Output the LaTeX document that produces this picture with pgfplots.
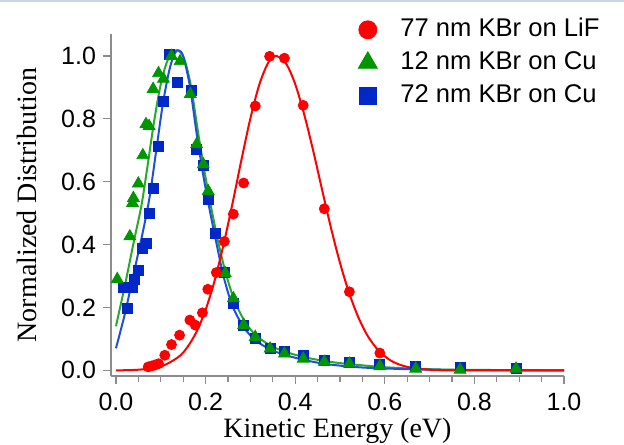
\documentclass[border=0pt]{standalone}
\usepackage{fontspec}
\setmainfont{Liberation Sans}
\newfontfamily\labelfont{Liberation Serif}
\usepackage{pgfplots}
\pgfplotsset{compat=1.18}
\usepackage{pgfplotstable}

\definecolor{mred}{RGB}{255,0,0}
\definecolor{mgreen}{RGB}{0,150,0}
\definecolor{mblue}{RGB}{0,40,200}
\definecolor{lgreen}{RGB}{40,170,40}
\definecolor{lblue}{RGB}{30,80,220}
\definecolor{axgray}{RGB}{140,140,140}

% measured points
\pgfplotstableread{
x y
0.072 0.011
0.080 0.014
0.087 0.017
0.095 0.021
0.109 0.048
0.124 0.082
0.142 0.112
0.165 0.160
0.177 0.144
0.193 0.183
0.205 0.258
0.224 0.311
0.242 0.410
0.262 0.497
0.285 0.596
0.311 0.841
0.343 0.999
0.376 0.993
0.418 0.843
0.465 0.514
0.521 0.250
0.589 0.055
}\lifpts

\pgfplotstableread{
x y
0.003 0.290
0.031 0.426
0.037 0.532
0.039 0.548
0.050 0.594
0.060 0.684
0.067 0.783
0.074 0.777
0.083 0.895
0.095 0.945
0.106 0.927
0.124 1.000
0.143 0.983
0.166 0.879
0.180 0.719
0.195 0.655
0.206 0.570
0.244 0.309
0.262 0.229
0.285 0.144
0.311 0.106
0.344 0.069
0.376 0.053
0.418 0.037
0.465 0.027
0.521 0.021
0.589 0.013
0.669 0.005
0.768 0.002
0.893 0.005
}\cuthinpts

\pgfplotstableread{
x y
0.016 0.264
0.025 0.197
0.036 0.264
0.042 0.288
0.051 0.317
0.060 0.389
0.068 0.405
0.075 0.500
0.084 0.580
0.094 0.713
0.107 0.857
0.120 1.006
0.138 0.916
0.168 0.890
0.180 0.703
0.195 0.653
0.206 0.543
0.222 0.437
0.242 0.311
0.262 0.213
0.285 0.144
0.311 0.101
0.344 0.071
0.376 0.059
0.418 0.048
0.465 0.032
0.521 0.024
0.589 0.018
0.669 0.011
0.768 0.009
0.893 0.006
}\cuthickpts

% fitted curves
\pgfplotstableread{
x y
0.00 0.000
0.05 0.002
0.10 0.012
0.14 0.043
0.16 0.075
0.18 0.123
0.20 0.192
0.22 0.284
0.24 0.399
0.26 0.530
0.28 0.669
0.30 0.801
0.32 0.909
0.34 0.979
0.358 1.000
0.38 0.975
0.40 0.911
0.42 0.815
0.44 0.700
0.46 0.575
0.48 0.453
0.50 0.342
0.52 0.248
0.54 0.172
0.56 0.114
0.58 0.073
0.60 0.045
0.62 0.026
0.65 0.011
0.70 0.002
0.75 0.000
1.00 0.000
}\liffit

\pgfplotstableread{
x y
0.000 0.140
0.020 0.270
0.040 0.410
0.057 0.525
0.070 0.645
0.085 0.790
0.100 0.910
0.115 0.985
0.133 1.018
0.145 1.010
0.155 0.980
0.168 0.900
0.183 0.760
0.198 0.630
0.213 0.515
0.228 0.410
0.245 0.310
0.265 0.220
0.290 0.150
0.315 0.108
0.350 0.075
0.385 0.056
0.420 0.042
0.460 0.031
0.500 0.023
0.550 0.016
0.600 0.010
0.670 0.005
0.750 0.002
0.850 0.001
1.000 0.000
}\cuthinfit

\pgfplotstableread{
x y
0.000 0.070
0.020 0.180
0.040 0.310
0.060 0.440
0.075 0.550
0.090 0.700
0.105 0.850
0.120 0.960
0.132 1.010
0.140 1.018
0.150 1.000
0.165 0.905
0.180 0.755
0.195 0.620
0.210 0.505
0.225 0.400
0.240 0.300
0.260 0.205
0.285 0.138
0.310 0.097
0.345 0.066
0.380 0.048
0.420 0.033
0.460 0.022
0.500 0.015
0.550 0.009
0.600 0.006
0.670 0.003
0.750 0.0015
0.850 0.0005
1.000 0.000
}\cuthickfit

\begin{document}
\begin{tikzpicture}
\path[use as bounding box] (-55.5pt,-34pt) rectangle (256.5pt,188pt);
\draw[line width=1.2pt, color={rgb,255:red,200;green,215;blue,232}] (-55.5pt,187.4pt) -- (256.5pt,187.4pt);
\begin{axis}[
  at={(0,0)}, anchor=south west,
  scale only axis,
  width=226.5pt, height=171pt,
  xmin=-0.011, xmax=1.0,
  ymin=-0.018, ymax=1.07,
  axis x line=bottom, axis y line=left,
  axis line style={-, axgray, line width=0.8pt},
  xtick={0,0.2,0.4,0.6,0.8,1.0},
  ytick={0,0.2,0.4,0.6,0.8,1.0},
  minor x tick num=3,
  tick align=outside,
  major tick length=4pt, minor tick length=3pt,
  every tick/.style={axgray, line width=0.6pt},
  /pgf/number format/fixed,
  /pgf/number format/fixed zerofill,
  /pgf/number format/precision=1,
  /pgf/number format/assume math mode=true,
  ticklabel style={font=\fontsize{12.5}{14}\selectfont, text=black},
  xticklabel style={yshift=-1pt},
  xlabel={Kinetic Energy (eV)},
  xlabel style={font=\labelfont\fontsize{14}{16}\selectfont, at={(axis description cs:0.5,-0.181)}, anchor=base},
  ylabel={Normalized Distribution},
  ylabel style={font=\labelfont\fontsize{14}{16}\selectfont, at={(axis description cs:-0.185,0.5)}, anchor=center},
  legend cell align=left,
  legend style={at={(axis description cs:0.545,1.05)}, anchor=north west,
    draw=none, fill=none, font=\fontsize{12.8}{15}\selectfont,
    row sep=4pt, column sep=11.5pt, inner sep=0pt,
    nodes={inner sep=0pt, text height=9.5pt, text depth=3pt}},
]
\addlegendimage{only marks, mark=*, mark size=4.5pt, draw=mred, fill=mred}
\addlegendentry{77 nm KBr on LiF}
\addlegendimage{only marks, mark=triangle*, mark size=5.5pt, draw=mgreen, fill=mgreen}
\addlegendentry{12 nm KBr on Cu}
\addlegendimage{only marks, mark=square*, mark size=4.2pt, draw=mblue, fill=mblue}
\addlegendentry{72 nm KBr on Cu}

\addplot[forget plot, only marks, mark=square*, mark size=2.5pt, draw=mblue, fill=mblue] table {\cuthickpts};
\addplot[forget plot, only marks, mark=triangle*, mark size=3.4pt, draw=mgreen, fill=mgreen] table {\cuthinpts};
\addplot[forget plot, smooth, lgreen, line width=1pt] table {\cuthinfit};
\addplot[forget plot, smooth, lblue, line width=1pt] table {\cuthickfit};
\addplot[forget plot, only marks, mark=*, mark size=2.5pt, draw=mred, fill=mred] table {\lifpts};
\addplot[forget plot, smooth, mred, line width=1pt] table {\liffit};
\end{axis}
\end{tikzpicture}
\end{document}
